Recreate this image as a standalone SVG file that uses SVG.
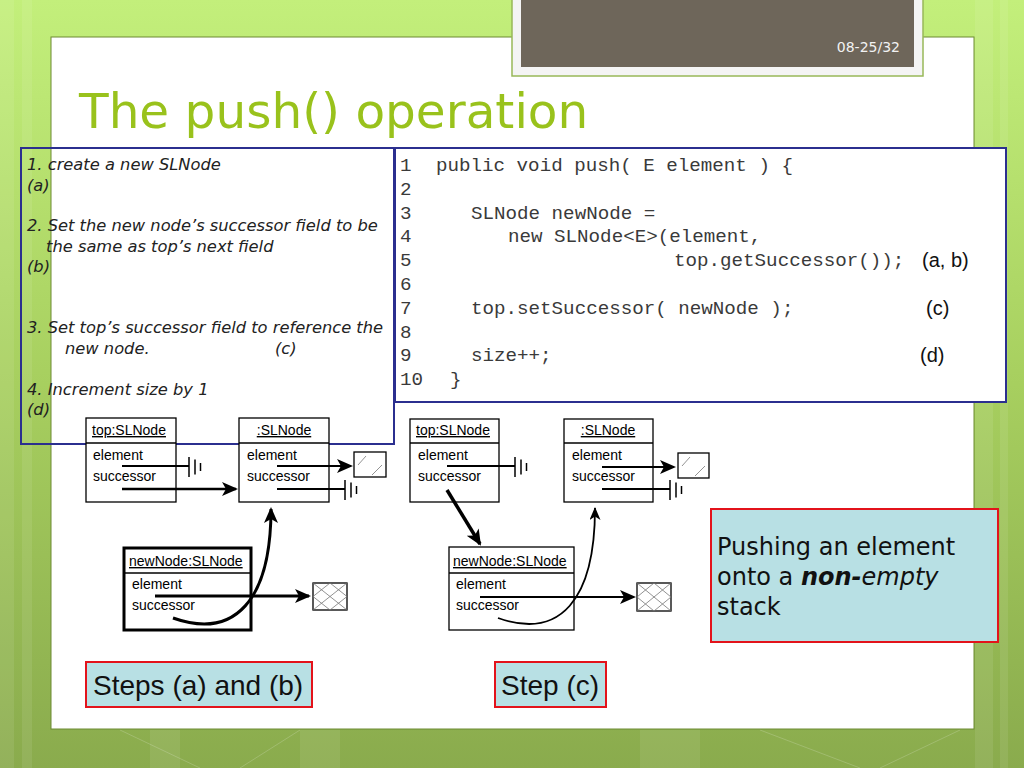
<svg xmlns="http://www.w3.org/2000/svg" width="1024" height="768" viewBox="0 0 1024 768">
<style>
.obj{fill:#fff;stroke:#000;stroke-width:1.3}
.thick{stroke-width:3}
.hdr{font-family:"Liberation Sans",Arial,sans-serif;font-size:14px;fill:#000;text-decoration:underline}
.fld{font-family:"Liberation Sans",Arial,sans-serif;font-size:14px;fill:#000}
.note{font-family:"DejaVu Sans",sans-serif;font-style:italic;font-size:16.3px;fill:#222}
.code{font-family:"Liberation Mono","Courier New",monospace;font-size:19.2px;fill:#3a3a3a}
.tag{font-family:"Liberation Sans",Arial,sans-serif;font-size:20px;fill:#111}
.lbl{font-family:"Liberation Sans",Arial,sans-serif;font-size:28px;fill:#111}
.cap{font-family:"DejaVu Sans",sans-serif;font-size:24px;fill:#111}
.blue{fill:none;stroke:#2b2f8f;stroke-width:2}
.red{fill:#b8e0e4;stroke:#e3131b;stroke-width:2}
.ln{fill:none;stroke:#000}
.gr{stroke:#000;stroke-width:1.5}
.pat{stroke:#777;stroke-width:0.8;fill:none}
</style>
<defs>
<linearGradient id="bg" x1="0" y1="0" x2="0" y2="1">
<stop offset="0" stop-color="#c3ef7b"/>
<stop offset="0.5" stop-color="#a7cf5f"/>
<stop offset="1" stop-color="#8aab4d"/>
</linearGradient>
<marker id="ah" markerUnits="userSpaceOnUse" markerWidth="18" markerHeight="16" refX="14" refY="7" orient="auto">
<path d="M0,0 L16,7 L0,14 L4,7 z" fill="#000"/>
</marker>
<marker id="ahs" markerUnits="userSpaceOnUse" markerWidth="15" markerHeight="12" refX="12" refY="5.5" orient="auto">
<path d="M0,0 L13,5.5 L0,11 L3.5,5.5 z" fill="#000"/>
</marker>
<g id="gnd">
<line class="gr" x1="0" y1="-10" x2="0" y2="10"/>
<line class="gr" x1="6" y1="-7.5" x2="6" y2="7.5"/>
<line class="gr" x1="11.5" y1="-4" x2="11.5" y2="4"/>
</g>
</defs>

<!-- background -->
<rect x="0" y="0" width="1024" height="768" fill="url(#bg)"/>
<g fill="#ffffff" opacity="0.08">
<rect x="0" y="0" width="14" height="768"/>
<rect x="22" y="0" width="10" height="768"/>
<rect x="975" y="0" width="18" height="768"/>
<rect x="1000" y="0" width="8" height="768"/>
<rect x="150" y="730" width="30" height="38"/>
<rect x="300" y="730" width="40" height="38"/>
<rect x="640" y="730" width="60" height="38"/>
</g>
<g stroke="#ffffff" stroke-width="1" opacity="0.18">
<line x1="120" y1="730" x2="200" y2="768"/>
<line x1="240" y1="768" x2="300" y2="730"/>
<line x1="760" y1="730" x2="860" y2="768"/>
<line x1="880" y1="768" x2="960" y2="730"/>
</g>

<!-- slide panel -->
<rect x="51" y="37" width="923" height="692" fill="#ffffff" stroke="#6d8a32" stroke-width="1"/>

<!-- header tab -->
<g id="header">
<rect x="512" y="-2" width="411" height="78" fill="#f4f4f4" stroke="#98b858" stroke-width="1.5"/>
<rect x="521" y="-2" width="393" height="69" fill="#6e665a"/>
<text x="900" y="52" text-anchor="end" font-family="'DejaVu Sans',sans-serif" font-size="14" fill="#f2f2f2">08-25/32</text>
</g>

<text id="title" x="79" y="128" font-family="'DejaVu Sans',sans-serif" font-size="48.5" fill="#99c21c">The push() operation</text>

<!-- steps text box -->
<g id="steps">
<rect class="blue" x="21" y="148" width="373" height="296"/>
<text class="note" x="27" y="170">1. create a new SLNode</text>
<text class="note" x="27" y="191">(a)</text>
<text class="note" x="27" y="231">2. Set the new node’s successor field to be</text>
<text class="note" x="46" y="252">the same as top’s next field</text>
<text class="note" x="27" y="272">(b)</text>
<text class="note" x="27" y="333">3. Set top’s successor field to reference the</text>
<text class="note" x="65" y="354">new node.</text>
<text class="note" x="275" y="354">(c)</text>
<text class="note" x="27" y="395">4. Increment size by 1</text>
<text class="note" x="27" y="415">(d)</text>
</g>

<!-- code box -->
<g id="code">
<rect x="395" y="148" width="611" height="254" fill="#ffffff" stroke="#2b2f8f" stroke-width="2"/>
<text class="code" x="400" y="171">1</text>
<text class="code" x="436" y="171">public void push( E element ) {</text>
<text class="code" x="400" y="195">2</text>
<text class="code" x="400" y="219">3</text>
<text class="code" x="471" y="219">SLNode newNode =</text>
<text class="code" x="400" y="242">4</text>
<text class="code" x="508" y="242">new SLNode&lt;E&gt;(element,</text>
<text class="code" x="400" y="266">5</text>
<text class="code" x="674" y="266">top.getSuccessor());</text>
<text class="tag" x="922" y="267">(a, b)</text>
<text class="code" x="400" y="290">6</text>
<text class="code" x="400" y="314">7</text>
<text class="code" x="471" y="314">top.setSuccessor( newNode );</text>
<text class="tag" x="926" y="315">(c)</text>
<text class="code" x="400" y="338">8</text>
<text class="code" x="400" y="361">9</text>
<text class="code" x="471" y="361">size++;</text>
<text class="tag" x="920" y="362">(d)</text>
<text class="code" x="400" y="385">10</text>
<text class="code" x="450" y="385">}</text>
</g>

<!-- Left diagram: steps (a) and (b) -->
<g id="L-top">
<rect class="obj" x="86" y="418" width="90" height="84"/>
<line class="ln" x1="86" y1="443" x2="176" y2="443" stroke-width="1.3"/>
<text class="hdr" x="92" y="435">top:SLNode</text>
<text class="fld" x="93" y="460">element</text>
<text class="fld" x="93" y="481">successor</text>
</g>
<g id="L-node">
<rect class="obj" x="239" y="418" width="90" height="84"/>
<line class="ln" x1="239" y1="443" x2="329" y2="443" stroke-width="1.3"/>
<text class="hdr" x="284" y="435" text-anchor="middle">:SLNode</text>
<text class="fld" x="247" y="460">element</text>
<text class="fld" x="247" y="481">successor</text>
</g>
<g id="L-elem1">
<rect fill="#fff" stroke="#000" stroke-width="1.3" x="354" y="452" width="32" height="25"/>
<line class="pat" x1="358" y1="465" x2="366" y2="456"/>
<line class="pat" x1="372" y1="475" x2="382" y2="465"/>
</g>
<g id="L-new">
<rect class="obj thick" x="124" y="548" width="127" height="82"/>
<line class="ln" x1="124" y1="573" x2="251" y2="573" stroke-width="1.3"/>
<text class="hdr" x="129" y="566">newNode:SLNode</text>
<text class="fld" x="132" y="589">element</text>
<text class="fld" x="132" y="610">successor</text>
</g>
<g id="L-elem2">
<rect fill="#fff" stroke="#000" stroke-width="1.3" x="313" y="583" width="34" height="27"/>
<path class="pat" d="M330,583 L347,596.5 L330,610 L313,596.5 Z M313,583 L347,610 M347,583 L313,610"/>
</g>

<!-- Right diagram: step (c) -->
<g id="R-top">
<rect class="obj" x="410" y="419" width="89" height="83"/>
<line class="ln" x1="410" y1="443" x2="499" y2="443" stroke-width="1.3"/>
<text class="hdr" x="416" y="435">top:SLNode</text>
<text class="fld" x="418" y="460">element</text>
<text class="fld" x="418" y="481">successor</text>
</g>
<g id="R-node">
<rect class="obj" x="564" y="419" width="89" height="83"/>
<line class="ln" x1="564" y1="443" x2="653" y2="443" stroke-width="1.3"/>
<text class="hdr" x="608" y="435" text-anchor="middle">:SLNode</text>
<text class="fld" x="572" y="460">element</text>
<text class="fld" x="572" y="481">successor</text>
</g>
<g id="R-elem1">
<rect fill="#fff" stroke="#000" stroke-width="1.3" x="678" y="453" width="31" height="25"/>
<line class="pat" x1="682" y1="466" x2="690" y2="457"/>
<line class="pat" x1="695" y1="476" x2="705" y2="466"/>
</g>
<g id="R-new">
<rect class="obj" x="449" y="547" width="125" height="83"/>
<line class="ln" x1="449" y1="573" x2="574" y2="573" stroke-width="1.3"/>
<text class="hdr" x="453" y="566">newNode:SLNode</text>
<text class="fld" x="456" y="589">element</text>
<text class="fld" x="456" y="610">successor</text>
</g>
<g id="R-elem2">
<rect fill="#fff" stroke="#000" stroke-width="1.3" x="637" y="583" width="34" height="28"/>
<path class="pat" d="M654,583 L671,597 L654,611 L637,597 Z M637,583 L671,611 M671,583 L637,611"/>
</g>

<!-- connectors -->
<g id="connectors">
<!-- left -->
<line class="ln" x1="122" y1="466" x2="189" y2="466" stroke-width="1.8"/>
<use href="#gnd" x="189" y="467"/>
<line class="ln" x1="122" y1="489" x2="236" y2="489" stroke-width="2.5" marker-end="url(#ah)"/>
<line class="ln" x1="277" y1="466" x2="351" y2="466" stroke-width="2" marker-end="url(#ah)"/>
<line class="ln" x1="277" y1="489" x2="345" y2="489" stroke-width="1.8"/>
<use href="#gnd" x="345" y="490"/>
<line class="ln" x1="155" y1="596" x2="309" y2="596" stroke-width="3" marker-end="url(#ah)"/>
<path class="ln" d="M173,618 C235,640 271,600 271,509" stroke-width="3" marker-end="url(#ah)"/>
<!-- right -->
<line class="ln" x1="447" y1="466" x2="515" y2="466" stroke-width="1.8"/>
<use href="#gnd" x="515" y="467"/>
<line class="ln" x1="447" y1="490" x2="480" y2="544" stroke-width="3.5" marker-end="url(#ah)"/>
<line class="ln" x1="602" y1="467" x2="674" y2="467" stroke-width="2" marker-end="url(#ah)"/>
<line class="ln" x1="602" y1="489" x2="670" y2="489" stroke-width="1.8"/>
<use href="#gnd" x="670" y="490"/>
<line class="ln" x1="480" y1="597" x2="634" y2="597" stroke-width="2" marker-end="url(#ah)"/>
<path class="ln" d="M498,618 C560,640 595,600 595,508" stroke-width="1.8" marker-end="url(#ahs)"/>
</g>

<!-- captions -->
<g id="caption-main">
<rect class="red" x="711" y="509" width="287" height="133"/>
<text class="cap" x="717" y="555">Pushing an element</text>
<text class="cap" x="717" y="585">onto a <tspan font-weight="bold" font-style="italic">non-</tspan><tspan font-style="italic">empty</tspan></text>
<text class="cap" x="717" y="615">stack</text>
</g>
<g id="caption-ab">
<rect class="red" x="86" y="662" width="226" height="45"/>
<text class="lbl" x="93" y="695">Steps (a) and (b)</text>
</g>
<g id="caption-c">
<rect class="red" x="495" y="662" width="111" height="45"/>
<text class="lbl" x="501" y="695">Step (c)</text>
</g>
</svg>
